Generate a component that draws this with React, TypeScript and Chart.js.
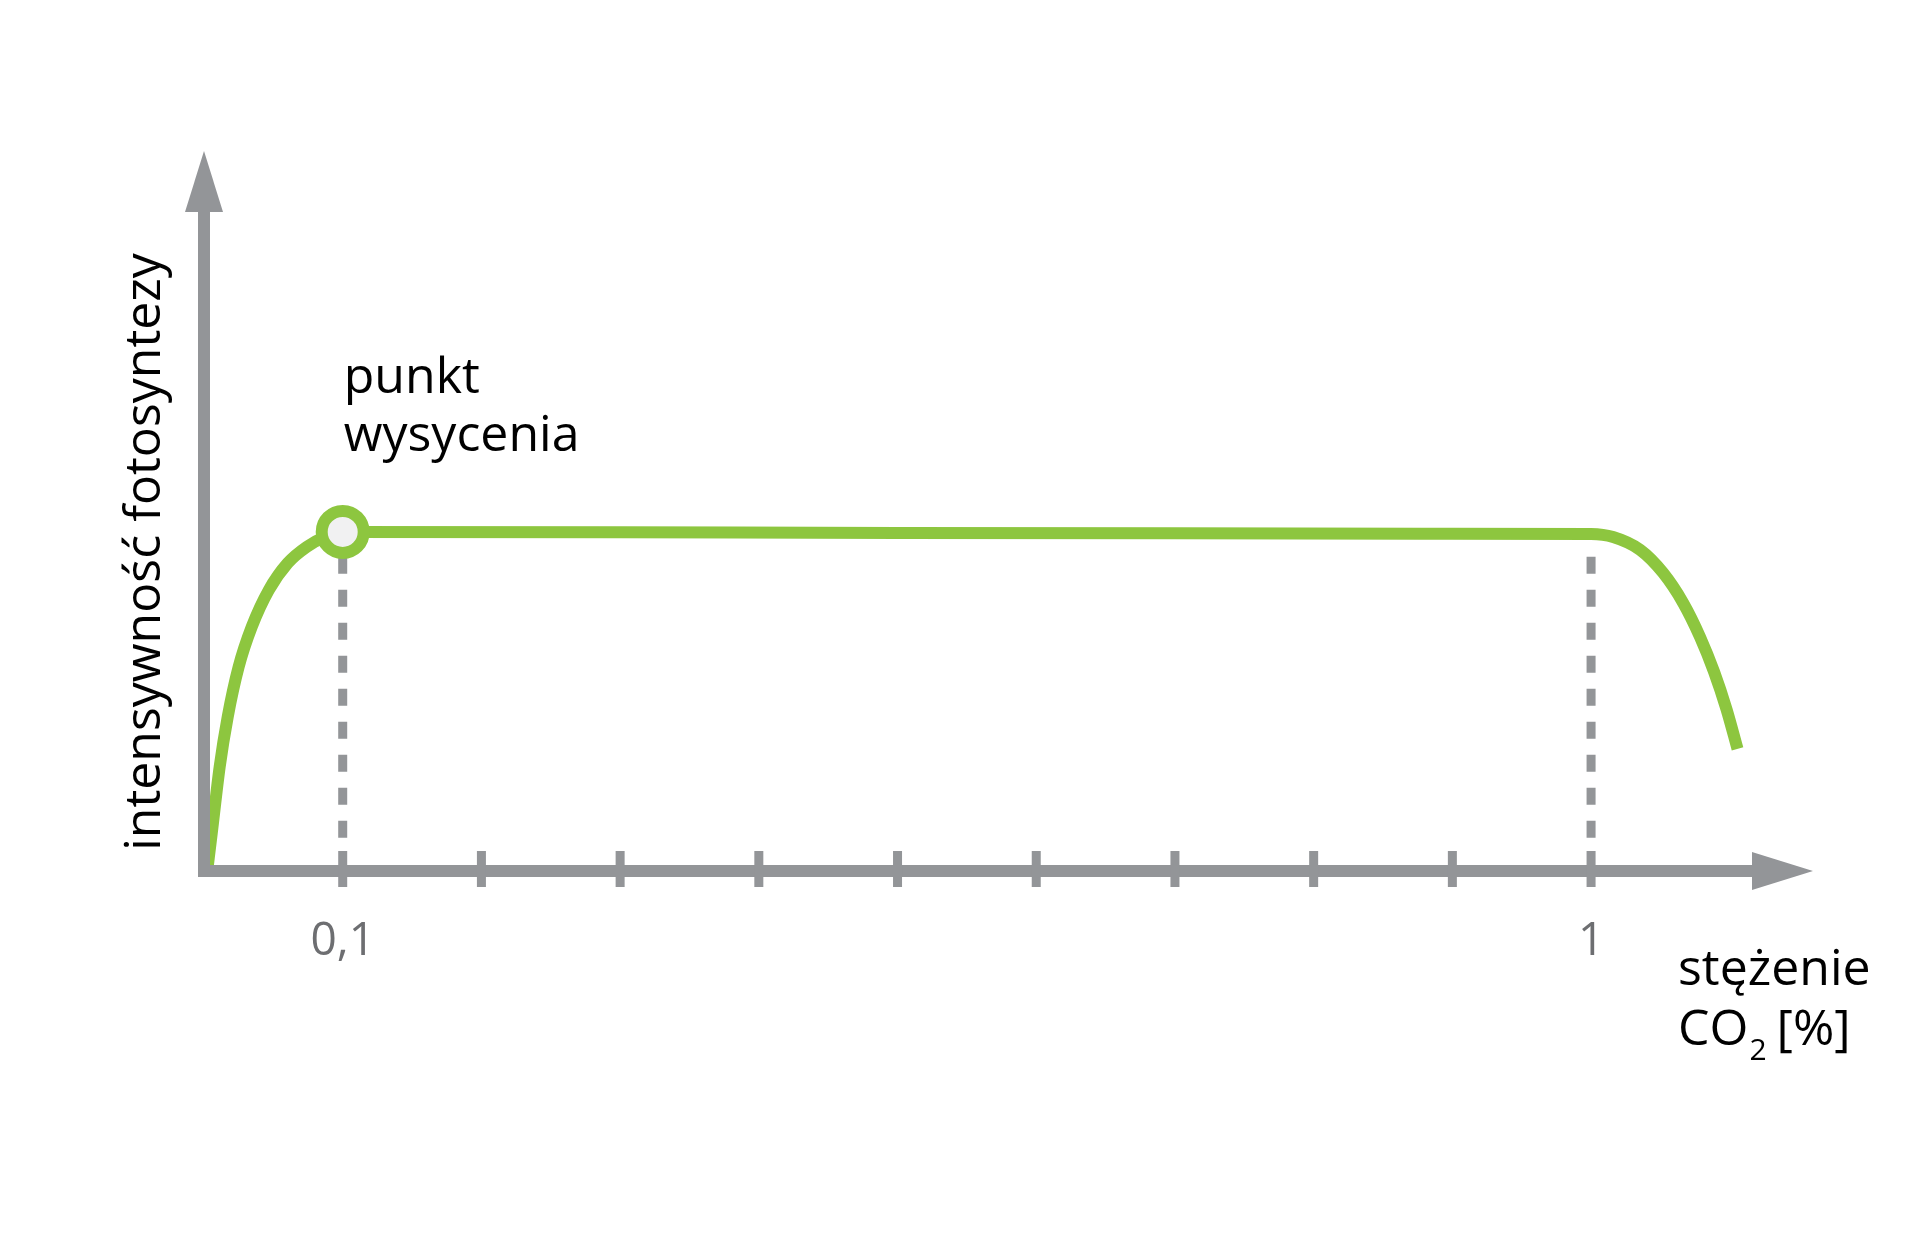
import { useEffect, useRef } from 'react';
import { Chart, registerables, type Plugin } from 'chart.js';

Chart.register(...registerables);

// stężenie CO2 [%] -> intensywność fotosyntezy (plateau = 1)
const concentration = [
  0.0023, 0.0056, 0.0113, 0.0171, 0.025, 0.0344, 0.0467, 0.0604, 0.0741, 0.0871, 0.1,
  0.3, 0.5, 0.7, 0.9, 1.0,
  1.0159, 1.0354, 1.0519, 1.0664, 1.0786, 1.0887, 1.0977, 1.1056,
];
const intensity = [
  0, 0.112, 0.308, 0.456, 0.604, 0.722, 0.831, 0.911, 0.959, 0.988, 1.003,
  1.002, 1.0, 0.999, 0.998, 0.997,
  0.988, 0.95, 0.882, 0.793, 0.692, 0.589, 0.478, 0.361,
];

const tickValues = [0.1, 0.2, 0.3, 0.4, 0.5, 0.6, 0.7, 0.8, 0.9, 1.0];
const labeledTicks = [0.1, 1.0];
const labeledTickText = ['0,1', '1'];
const dashedAt = [0.1, 1.0];
const saturationIndex = 10;

const GREEN = '#8dc63f';
const GRAY = '#939598';
const LABEL_GRAY = '#6d6e71';
const FONT = '"Open Sans", "Noto Sans", sans-serif';

const App = () => {
  const canvasRef = useRef<HTMLCanvasElement | null>(null);
  const chartRef = useRef<Chart<'line'> | null>(null);

  useEffect(() => {
    if (!canvasRef.current) return;

    // przerywane linie pod krzywą
    const guides: Plugin<'line'> = {
      id: 'guides',
      beforeDatasetsDraw: (chart) => {
        const { ctx, scales } = chart;
        const x = scales.x;
        const y = scales.y;
        ctx.save();
        ctx.strokeStyle = GRAY;
        ctx.lineWidth = 9;
        ctx.setLineDash([17, 16]);
        dashedAt.forEach((v) => {
          const px = x.getPixelForValue(v);
          ctx.beginPath();
          ctx.moveTo(px, y.getPixelForValue(0.93));
          ctx.lineTo(px, y.getPixelForValue(0.06));
          ctx.stroke();
        });
        ctx.restore();
      },
    };

    // osie ze strzałkami, kreski i podpisy
    const axes: Plugin<'line'> = {
      id: 'axes',
      afterDatasetsDraw: (chart) => {
        const { ctx, chartArea, scales } = chart;
        const x = scales.x;
        const y = scales.y;
        const x0 = x.getPixelForValue(0);
        const y0 = y.getPixelForValue(0);
        const top = chartArea.top;
        const right = chartArea.right;
        const head = 61;
        const half = 19;

        ctx.save();
        ctx.fillStyle = GRAY;
        // oś Y
        ctx.fillRect(x0 - 6, top + head - 1, 12, y0 + 6 - (top + head - 1));
        ctx.beginPath();
        ctx.moveTo(x0, top);
        ctx.lineTo(x0 + half, top + head);
        ctx.lineTo(x0 - half, top + head);
        ctx.closePath();
        ctx.fill();
        // oś X
        ctx.fillRect(x0 - 6, y0 - 6, right - head + 1 - (x0 - 6), 12);
        ctx.beginPath();
        ctx.moveTo(right, y0);
        ctx.lineTo(right - head, y0 - half);
        ctx.lineTo(right - head, y0 + half);
        ctx.closePath();
        ctx.fill();
        // kreski
        tickValues.forEach((v) => {
          const px = x.getPixelForValue(v);
          ctx.fillRect(px - 4.5, y0 - 20, 9, 36);
        });

        // podpisy kresek
        ctx.fillStyle = LABEL_GRAY;
        ctx.font = `500 46px ${FONT}`;
        ctx.textAlign = 'center';
        ctx.textBaseline = 'alphabetic';
        labeledTicks.forEach((v, i) => {
          ctx.fillText(labeledTickText[i], x.getPixelForValue(v), y0 + 84);
        });

        ctx.fillStyle = '#000';
        ctx.font = `500 50px ${FONT}`;
        ctx.textAlign = 'left';
        // punkt wysycenia
        const sx = x.getPixelForValue(concentration[saturationIndex]) + 1;
        ctx.fillText('punkt', sx, 393);
        ctx.fillText('wysycenia', sx, 451);

        // tytuł osi X
        const tx = 1678;
        ctx.fillText('stężenie', tx, 985);
        ctx.fillText('CO', tx, 1045);
        const coW = ctx.measureText('CO').width;
        ctx.font = `500 30px ${FONT}`;
        ctx.fillText('2', tx + coW + 1, 1060);
        const subW = ctx.measureText('2').width;
        ctx.font = `500 50px ${FONT}`;
        ctx.fillText(' [%]', tx + coW + subW - 2, 1045);

        // tytuł osi Y
        ctx.translate(160, 552);
        ctx.rotate(-Math.PI / 2);
        ctx.textAlign = 'center';
        ctx.fillText('intensywność fotosyntezy', 0, 0);
        ctx.restore();
      },
    };

    if (chartRef.current) chartRef.current.destroy();

    chartRef.current = new Chart(canvasRef.current, {
      type: 'line',
      data: {
        datasets: [
          {
            data: concentration.map((c, i) => ({ x: c, y: intensity[i] })),
            borderColor: GREEN,
            borderWidth: 12,
            borderCapStyle: 'butt',
            cubicInterpolationMode: 'monotone',
            pointRadius: (c) => (c.dataIndex === saturationIndex ? 21 : 0),
            pointHoverRadius: (c) => (c.dataIndex === saturationIndex ? 21 : 0),
            pointBackgroundColor: '#f1f1f2',
            pointBorderColor: GREEN,
            pointBorderWidth: 12,
            clip: false,
          },
        ],
      },
      options: {
        responsive: false,
        animation: false,
        events: [],
        layout: { padding: { left: 204, right: 107, top: 151, bottom: 384 } },
        plugins: { legend: { display: false }, tooltip: { enabled: false } },
        scales: {
          x: { type: 'linear', min: 0, max: 1.16, display: false },
          y: { type: 'linear', min: 0, max: 2.13, display: false },
        },
      },
      plugins: [guides, axes],
    });

    return () => {
      chartRef.current?.destroy();
      chartRef.current = null;
    };
  }, []);

  return (
    <div style={{ position: 'absolute', left: 0, top: 0, width: 1920, height: 1255, background: '#fff' }}>
      <canvas ref={canvasRef} width={1920} height={1255} style={{ width: 1920, height: 1255 }} />
    </div>
  );
};

export default App;
